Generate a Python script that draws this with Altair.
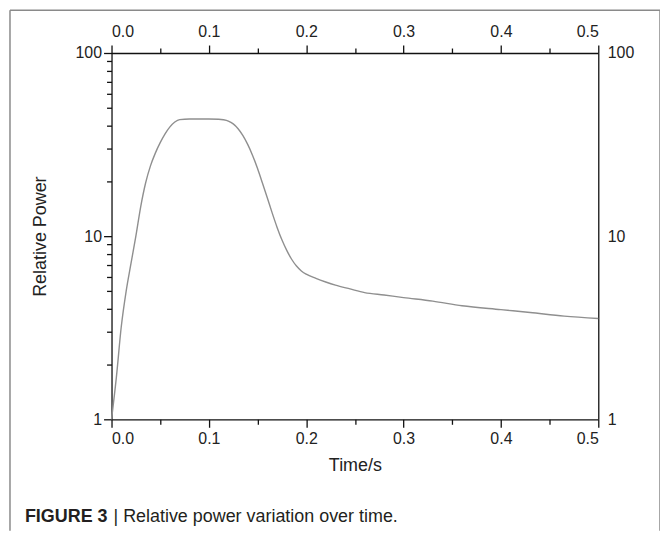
import altair as alt
import pandas as pd

# ---- data ----
time_s = [0.0, 0.005, 0.01, 0.015, 0.02, 0.025, 0.03, 0.035, 0.04, 0.045, 0.05,
          0.055, 0.06, 0.065, 0.07, 0.08, 0.09, 0.10, 0.11, 0.115, 0.12, 0.125,
          0.13, 0.135, 0.14, 0.145, 0.15, 0.155, 0.16, 0.165, 0.17, 0.175, 0.18,
          0.185, 0.19, 0.195, 0.20, 0.21, 0.22, 0.23, 0.245, 0.26, 0.28, 0.30,
          0.33, 0.36, 0.40, 0.43, 0.465, 0.50]
power = [1.0, 1.7, 3.2, 5.0, 7.1, 10.0, 14.5, 19.5, 24.2, 28.4, 32.4,
         36.2, 39.5, 42.0, 43.3, 43.6, 43.6, 43.6, 43.5, 43.2, 42.5, 41.0,
         38.6, 35.4, 31.6, 27.5, 23.4, 19.5, 16.2, 13.4, 11.2, 9.55, 8.36,
         7.48, 6.87, 6.46, 6.2, 5.88, 5.62, 5.4, 5.15, 4.92, 4.77, 4.62,
         4.42, 4.17, 3.97, 3.83, 3.66, 3.55]

x_major = [0.0, 0.1, 0.2, 0.3, 0.4, 0.5]
x_minor = [0.05, 0.15, 0.25, 0.35, 0.45]
y_major = [1, 10, 100]
y_minor = [2, 3, 4, 5, 6, 7, 8, 9, 20, 30, 40, 50, 60, 70, 80, 90]

x_title = "Time/s"
y_title = "Relative Power"
caption_bold = "FIGURE 3"
caption_rest = "| Relative power variation over time."

df = pd.DataFrame({"t": time_s, "p": power})

FONT = "Liberation Sans, Arial"
W, H = 489, 368

xs = alt.Scale(domain=[0, 0.5], nice=False, zero=False)
ys = alt.Scale(type="log", domain=[1, 100], nice=False)

base = alt.Chart(df)

main = base.mark_line(color="#8f8f8f", strokeWidth=1.4, interpolate="monotone").encode(
    x=alt.X("t:Q", scale=xs, axis=alt.Axis(
        orient="bottom", values=x_major, format=".1f", tickSize=8, labelPadding=3,
        title=x_title, titleX=W / 2, titleY=51, titleBaseline="alphabetic")),
    y=alt.Y("p:Q", scale=ys, axis=alt.Axis(
        orient="left", values=y_major, format="d", tickSize=8, labelPadding=2,
        title=y_title, titleX=-66, titleY=H / 2, titleBaseline="alphabetic")),
)

minor_bottom = base.mark_line(opacity=0).encode(
    x=alt.X("t:Q", scale=xs, axis=alt.Axis(
        orient="bottom", values=x_minor, labels=False, domain=False, tickSize=5, title=None)),
    y=alt.Y("p:Q", scale=ys, axis=None),
)

minor_left = base.mark_line(opacity=0).encode(
    x=alt.X("t:Q", scale=xs, axis=None),
    y=alt.Y("p:Q", scale=ys, axis=alt.Axis(
        orient="left", values=y_minor, labels=False, domain=False, tickSize=5, title=None)),
)

top_right = base.mark_line(opacity=0).encode(
    x=alt.X("t:Q", scale=xs, axis=alt.Axis(
        orient="top", values=x_major, format=".1f", tickSize=8, labelPadding=6, title=None)),
    y=alt.Y("p:Q", scale=ys, axis=alt.Axis(
        orient="right", values=y_major, format="d", ticks=False, tickSize=0,
        labelPadding=9, title=None)),
)

minor_top = base.mark_line(opacity=0).encode(
    x=alt.X("t:Q", scale=xs, axis=alt.Axis(
        orient="top", values=x_minor, labels=False, domain=False, tickSize=5, title=None)),
    y=alt.Y("p:Q", scale=ys, axis=None),
)

one = alt.Data(values=[{"k": 1}])
frame_col = "#8a8a8a"
frame_left = alt.Chart(one).mark_rule(color=frame_col, strokeWidth=1.5).encode(
    x=alt.value(-102), y=alt.value(-43), y2=alt.value(480))
frame_right = alt.Chart(one).mark_rule(color=frame_col, strokeWidth=1.5).encode(
    x=alt.value(551), y=alt.value(-43), y2=alt.value(480))
frame_top = alt.Chart(one).mark_rule(color=frame_col, strokeWidth=1.5).encode(
    x=alt.value(-102), x2=alt.value(551), y=alt.value(-43))

cap1 = alt.Chart(one).mark_text(
    text=caption_bold, font="Liberation Sans", fontSize=18, fontWeight="bold",
    align="left", baseline="alphabetic", color="#231f20").encode(
    x=alt.value(-87), y=alt.value(471))
cap2 = alt.Chart(one).mark_text(
    text=caption_rest, font="Liberation Sans", fontSize=18,
    align="left", baseline="alphabetic", color="#231f20").encode(
    x=alt.value(2), y=alt.value(471))

chart = alt.layer(
    main, minor_bottom, minor_left, top_right, minor_top,
    frame_left, frame_right, frame_top, cap1, cap2
).resolve_axis(x="independent", y="independent").properties(
    width=W, height=H,
    autosize=alt.AutoSizeParams(type="none"),
    padding={"left": 104, "top": 44, "right": 62, "bottom": 112},
    background="white",
).configure_view(stroke=None).configure_axis(
    grid=False,
    domainColor="#111", domainWidth=1.3,
    tickColor="#111", tickWidth=1.3,
    labelFont=FONT, labelFontSize=16, labelColor="#222",
    titleFont=FONT, titleFontSize=18, titleFontWeight="normal", titleColor="#222",
)

chart.save("out.html", embed_options={"renderer": "svg", "actions": False})
